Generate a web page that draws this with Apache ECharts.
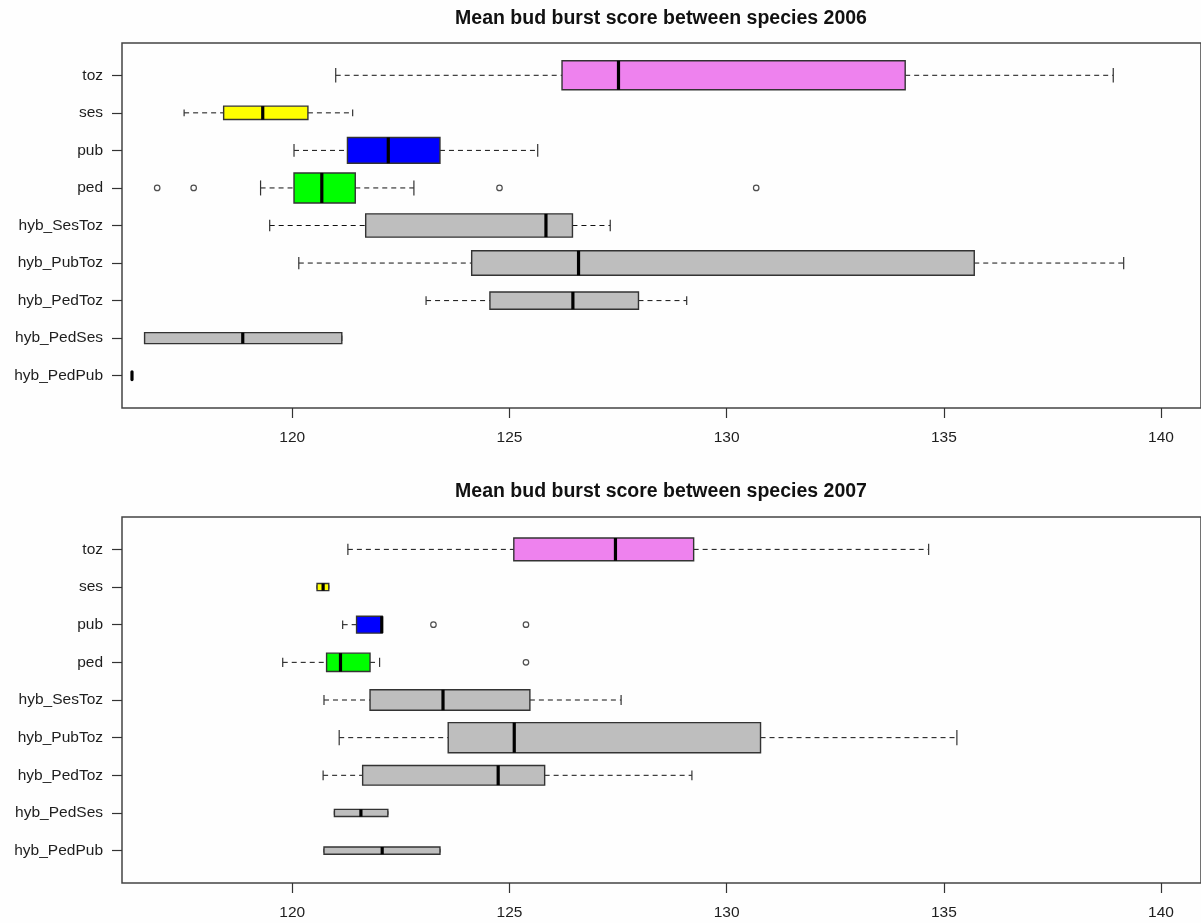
<!DOCTYPE html>
<html>
<head>
<meta charset="utf-8">
<script src="https://cdn.jsdelivr.net/npm/echarts@6/dist/echarts.min.js"></script>
<style>
html,body{margin:0;padding:0;background:#fefefe;}
#chart{width:1201px;height:923px;}
</style>
</head>
<body>
<div id="chart"></div>
<script>
// ---------------- DATA ----------------
const categories = ['hyb_PedPub','hyb_PedSes','hyb_PedToz','hyb_PubToz','hyb_SesToz','ped','pub','ses','toz'];
const xTicks = [120, 125, 130, 135, 140];
const titles = ['Mean bud burst score between species 2006', 'Mean bud burst score between species 2007'];

// 2006: lower whisker, lower hinge, median, upper hinge, upper whisker, sample size
const low2006 = [116.31, 116.60, 123.08, 120.15, 119.48, 119.27, 120.04, 117.51, 121.00];
const q1_2006 = [116.31, 116.60, 124.55, 124.13, 121.69, 120.04, 121.27, 118.42, 126.21];
const med2006 = [116.31, 118.86, 126.46, 126.59, 125.84, 120.68, 122.21, 119.32, 127.51];
const q3_2006 = [116.31, 121.14, 127.97, 135.70, 126.45, 121.45, 123.40, 120.36, 134.11];
const high2006 = [116.31, 121.14, 129.08, 139.14, 127.32, 122.80, 125.65, 121.39, 138.90];
const n2006 = [1, 2, 5, 10, 9, 15, 11, 3, 14];
const outCat2006 = ['ped', 'ped', 'ped', 'ped'];
const outVal2006 = [116.89, 117.73, 124.77, 130.68];

// 2007
const low2007 = [120.73, 120.97, 120.71, 121.08, 120.73, 119.78, 121.16, 120.57, 121.28];
const q1_2007 = [120.73, 120.97, 121.62, 123.59, 121.79, 120.79, 121.48, 120.57, 125.10];
const med2007 = [122.07, 121.58, 124.74, 125.11, 123.47, 121.11, 122.06, 120.71, 127.44];
const q3_2007 = [123.40, 122.20, 125.81, 130.78, 125.47, 121.79, 122.07, 120.84, 129.24];
const high2007 = [123.40, 122.20, 129.20, 135.30, 127.57, 122.01, 122.07, 120.84, 134.65];
const n2007 = [2, 2, 15, 35, 16, 13, 11, 2, 20];
const outCat2007 = ['pub', 'pub', 'ped'];
const outVal2007 = [123.25, 125.38, 125.38];

// ---------------- STYLE ----------------
const boxFill = {
  hyb_PedPub: '#BEBEBE', hyb_PedSes: '#BEBEBE', hyb_PedToz: '#BEBEBE', hyb_PubToz: '#BEBEBE',
  hyb_SesToz: '#BEBEBE', ped: '#00FF00', pub: '#0000FF', ses: '#FFFF00', toz: '#EE82EE'
};
const FONT = '"Liberation Sans", Arial, Helvetica, sans-serif';
const LINE = '#333333';
const TEXT = '#1e1e1e';

const years = [
  {low: low2006, q1: q1_2006, med: med2006, q3: q3_2006, high: high2006, n: n2006, oc: outCat2006, ov: outVal2006},
  {low: low2007, q1: q1_2007, med: med2007, q3: q3_2007, high: high2007, n: n2007, oc: outCat2007, ov: outVal2007}
];

const gridTops = [43, 517];
const gridHeights = [365, 366];
const titleCenters = [18.5, 491.5];

function makeRender(nMax) {
  return function (params, api) {
    const cat = api.value(0);
    const lo = api.value(1), q1 = api.value(2), md = api.value(3), q3 = api.value(4), hi = api.value(5), n = api.value(6);
    const half = 0.4 * Math.sqrt(n / nMax);
    const pLo = api.coord([lo, cat]);
    const pQ1 = api.coord([q1, cat]);
    const pMd = api.coord([md, cat]);
    const pQ3 = api.coord([q3, cat]);
    const pHi = api.coord([hi, cat]);
    const yc = pLo[1];
    const yTop = api.coord([q1, cat + half])[1];
    const yBot = api.coord([q1, cat - half])[1];
    const hs = (yBot - yTop) / 4;
    const fill = boxFill[categories[cat - 1]];
    const children = [];
    const dash = {stroke: '#111', lineWidth: 1, lineDash: [5, 4]};
    if (pQ1[0] - pLo[0] > 0.5) {
      children.push({type: 'line', shape: {x1: pLo[0], y1: yc, x2: pQ1[0], y2: yc}, style: dash});
    }
    if (pHi[0] - pQ3[0] > 0.5) {
      children.push({type: 'line', shape: {x1: pQ3[0], y1: yc, x2: pHi[0], y2: yc}, style: dash});
    }
    if (n > 1) {
      children.push({type: 'line', shape: {x1: pLo[0], y1: yc - hs, x2: pLo[0], y2: yc + hs}, style: {stroke: LINE, lineWidth: 1.2}});
      children.push({type: 'line', shape: {x1: pHi[0], y1: yc - hs, x2: pHi[0], y2: yc + hs}, style: {stroke: LINE, lineWidth: 1.2}});
      children.push({type: 'rect', shape: {x: pQ1[0], y: yTop, width: pQ3[0] - pQ1[0], height: yBot - yTop},
        style: {fill: fill, stroke: LINE, lineWidth: 1.4}});
    }
    children.push({type: 'line', shape: {x1: pMd[0], y1: yTop, x2: pMd[0], y2: yBot},
      style: {stroke: '#000', lineWidth: 3.2, lineCap: n > 1 ? 'butt' : 'round'}});
    return {type: 'group', children: children};
  };
}

const option = {
  animation: false,
  backgroundColor: '#fefefe',
  title: titles.map((t, i) => ({
    text: t, left: 656, top: titleCenters[i] - 5, textAlign: 'center', textVerticalAlign: 'middle',
    textStyle: {fontFamily: FONT, fontSize: 19.5, fontWeight: 'bold', color: '#111'}
  })),
  grid: [0, 1].map(i => ({
    left: 122, top: gridTops[i], width: 1080, height: gridHeights[i],
    show: true, borderColor: '#444', borderWidth: 1.5, backgroundColor: 'transparent', containLabel: false
  })),
  xAxis: [0, 1].map(i => ({
    type: 'value', gridIndex: i, min: 116.08, max: 140.92,
    axisLine: {show: false},
    splitLine: {show: false},
    axisTick: {show: true, customValues: xTicks, length: 10, lineStyle: {color: LINE, width: 1.2}},
    axisLabel: {show: true, customValues: xTicks, margin: 22, fontFamily: FONT, fontSize: 15.5, color: TEXT}
  })),
  yAxis: [0, 1].map(i => ({
    type: 'value', gridIndex: i, min: 0.14, max: 9.86,
    axisLine: {show: false},
    splitLine: {show: false},
    axisTick: {show: true, customValues: categories.map((c, k) => k + 1), length: 10, lineStyle: {color: LINE, width: 1.2}},
    axisLabel: {show: true, customValues: categories.map((c, k) => k + 1), margin: 19,
      formatter: v => categories[Math.round(v) - 1], fontFamily: FONT, fontSize: 15.5, color: TEXT}
  })),
  series: []
};

years.forEach((yr, i) => {
  const nMax = Math.max(...yr.n);
  option.series.push({
    type: 'custom', xAxisIndex: i, yAxisIndex: i,
    renderItem: makeRender(nMax),
    encode: {x: [1, 2, 3, 4, 5], y: 0},
    data: categories.map((c, k) => [k + 1, yr.low[k], yr.q1[k], yr.med[k], yr.q3[k], yr.high[k], yr.n[k]]),
    silent: true
  });
  option.series.push({
    type: 'scatter', xAxisIndex: i, yAxisIndex: i,
    symbol: 'circle', symbolSize: 5.5,
    itemStyle: {color: '#ffffff', borderColor: '#222', borderWidth: 1.2},
    data: yr.ov.map((v, k) => [v, categories.indexOf(yr.oc[k]) + 1]),
    silent: true
  });
});

const chart = echarts.init(document.getElementById('chart'), null, {renderer: 'canvas'});
chart.setOption(option);
</script>
</body>
</html>
